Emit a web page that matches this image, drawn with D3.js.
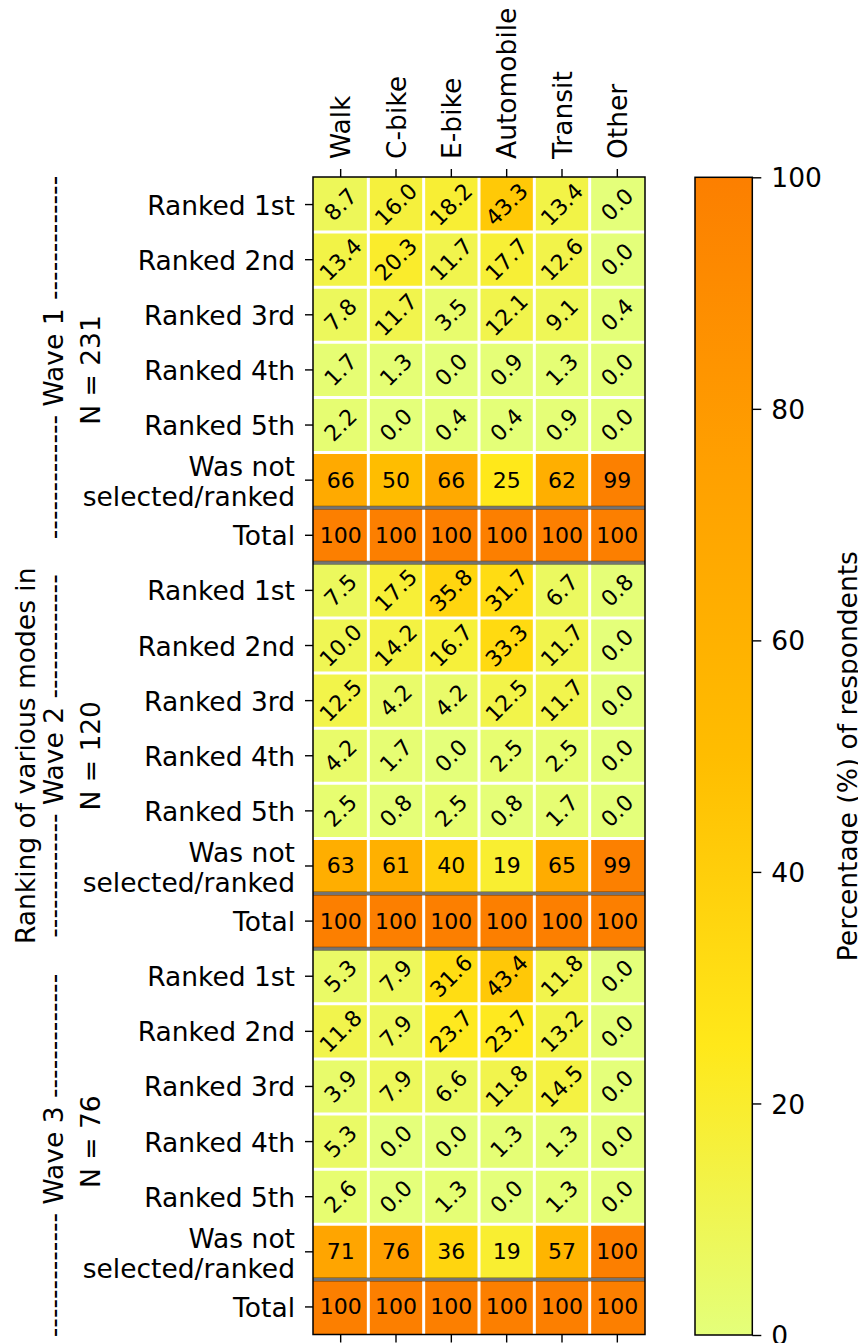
<!DOCTYPE html>
<html>
<head>
<meta charset="utf-8">
<script src="https://cdn.jsdelivr.net/npm/d3@7"></script>
<style>
  html, body { margin: 0; padding: 0; background: #fff; }
  svg { display: block; font-family: "DejaVu Sans", sans-serif; }
</style>
</head>
<body>
<svg id="chart" width="858" height="1343"></svg>
<script>
// Travel modes (columns)
const modes = ["Walk", "C-bike", "E-bike", "Automobile", "Transit", "Other"];

// Row labels repeated within each survey wave
const rowLabels = ["Ranked 1st", "Ranked 2nd", "Ranked 3rd", "Ranked 4th", "Ranked 5th",
                   "Was not\nselected/ranked", "Total"];

const waves = ["Wave 1", "Wave 2", "Wave 3"];
const waveN = [231, 120, 76];

// Percentage of respondents per rank and mode
const wave1 = [
  [8.7, 16.0, 18.2, 43.3, 13.4, 0.0],
  [13.4, 20.3, 11.7, 17.7, 12.6, 0.0],
  [7.8, 11.7, 3.5, 12.1, 9.1, 0.4],
  [1.7, 1.3, 0.0, 0.9, 1.3, 0.0],
  [2.2, 0.0, 0.4, 0.4, 0.9, 0.0],
  [66, 50, 66, 25, 62, 99],
  [100, 100, 100, 100, 100, 100]
];
const wave2 = [
  [7.5, 17.5, 35.8, 31.7, 6.7, 0.8],
  [10.0, 14.2, 16.7, 33.3, 11.7, 0.0],
  [12.5, 4.2, 4.2, 12.5, 11.7, 0.0],
  [4.2, 1.7, 0.0, 2.5, 2.5, 0.0],
  [2.5, 0.8, 2.5, 0.8, 1.7, 0.0],
  [63, 61, 40, 19, 65, 99],
  [100, 100, 100, 100, 100, 100]
];
const wave3 = [
  [5.3, 7.9, 31.6, 43.4, 11.8, 0.0],
  [11.8, 7.9, 23.7, 23.7, 13.2, 0.0],
  [3.9, 7.9, 6.6, 11.8, 14.5, 0.0],
  [5.3, 0.0, 0.0, 1.3, 1.3, 0.0],
  [2.6, 0.0, 1.3, 0.0, 1.3, 0.0],
  [71, 76, 36, 19, 57, 100],
  [100, 100, 100, 100, 100, 100]
];

const colorTicks = [0, 20, 40, 60, 80, 100];

// Wistia colormap anchors
const cmapStops = [0, 25, 50, 75, 100];
const cmapColors = ["#e4ff7a", "#ffe81a", "#ffbd00", "#ffa000", "#fc7f00"];

(function draw() {
  const svg = d3.select("#chart");
  const FONT = "DejaVu Sans";
  const FS = 26.5;      // tick / label font size
  const FS_CELL = 22;   // annotation font size

  const pLeft = 313, pRight = 645, pTop = 177, pBottom = 1334.5;
  const waveData = [wave1, wave2, wave3];
  const nRows = waveData.length * rowLabels.length;

  const x = d3.scaleBand().domain(modes).range([pLeft, pRight]);
  const y = d3.scaleBand().domain(d3.range(nRows)).range([pTop, pBottom]);
  const color = d3.scaleLinear().domain(cmapStops).range(cmapColors).clamp(true);

  // Flatten into cell records
  const cells = [];
  waveData.forEach((w, wi) => {
    w.forEach((row, ri) => {
      row.forEach((v, ci) => {
        cells.push({ r: wi * rowLabels.length + ri, ri, mode: modes[ci], v });
      });
    });
  });

  // Heatmap cells
  svg.append("g").selectAll("rect").data(cells).join("rect")
    .attr("x", d => x(d.mode))
    .attr("y", d => y(d.r))
    .attr("width", x.bandwidth())
    .attr("height", y.bandwidth())
    .attr("fill", d => color(d.v));

  // White separators between cells
  const grid = svg.append("g").attr("stroke", "#fff").attr("stroke-width", 3);
  modes.slice(1).forEach(m => {
    grid.append("line").attr("x1", x(m)).attr("x2", x(m)).attr("y1", pTop).attr("y2", pBottom);
  });
  d3.range(1, nRows).forEach(r => {
    grid.append("line").attr("x1", pLeft).attr("x2", pRight).attr("y1", y(r)).attr("y2", y(r));
  });

  // Dark rules around the "Total" rows
  const totalIdx = rowLabels.length - 1;
  const sep = svg.append("g").attr("stroke", "rgba(0,0,0,0.55)").attr("stroke-width", 4);
  waveData.forEach((w, wi) => {
    const r = wi * rowLabels.length + totalIdx;
    [y(r), y(r) + y.bandwidth()].forEach(yy => {
      if (yy < pBottom - 1) {
        sep.append("line").attr("x1", pLeft).attr("x2", pRight).attr("y1", yy).attr("y2", yy);
      }
    });
  });

  // Value annotations
  const fmt1 = d3.format(".1f"), fmt0 = d3.format("d");
  svg.append("g").selectAll("text").data(cells).join("text")
    .attr("font-family", FONT)
    .attr("font-size", FS_CELL)
    .attr("fill", "#000")
    .attr("text-anchor", "middle")
    .attr("dominant-baseline", "central")
    .attr("transform", d => {
      const cx = x(d.mode) + x.bandwidth() / 2, cy = y(d.r) + y.bandwidth() / 2;
      return d.ri < 5 ? `translate(${cx},${cy}) rotate(-45)` : `translate(${cx},${cy})`;
    })
    .text(d => d.ri < 5 ? fmt1(d.v) : fmt0(d.v));

  // Axes frame
  svg.append("rect").attr("x", pLeft).attr("y", pTop)
    .attr("width", pRight - pLeft).attr("height", pBottom - pTop)
    .attr("fill", "none").attr("stroke", "#000").attr("stroke-width", 1.5);

  // Top axis with rotated mode labels
  const xTop = svg.append("g").attr("transform", `translate(0,${pTop})`)
    .call(d3.axisTop(x).tickSize(8).tickSizeOuter(0));
  xTop.attr("font-family", FONT);
  xTop.select(".domain").remove();
  xTop.selectAll(".tick line").attr("stroke-width", 1.4);
  xTop.selectAll(".tick text")
    .attr("font-size", FS).attr("font-family", FONT).attr("fill", "#000")
    .attr("text-anchor", "start")
    .attr("transform", "rotate(-90)")
    .attr("x", 18).attr("y", 9.5).attr("dy", 0);

  // Bottom ticks only
  const xBot = svg.append("g").attr("transform", `translate(0,${pBottom})`)
    .call(d3.axisBottom(x).tickSize(8).tickSizeOuter(0).tickFormat(""));
  xBot.select(".domain").remove();
  xBot.selectAll(".tick line").attr("stroke-width", 1.4);

  // Left axis with row labels
  const yAx = svg.append("g").attr("transform", `translate(${pLeft},0)`)
    .call(d3.axisLeft(y).tickSize(8).tickSizeOuter(0).tickFormat(""));
  yAx.attr("font-family", FONT);
  yAx.select(".domain").remove();
  yAx.selectAll(".tick line").attr("stroke-width", 1.4);
  yAx.selectAll(".tick").each(function (r) {
    const lines = rowLabels[r % rowLabels.length].split("\n");
    const t = d3.select(this).append("text")
      .attr("font-family", FONT).attr("font-size", FS).attr("fill", "#000")
      .attr("text-anchor", "end");
    if (lines.length === 1) {
      t.append("tspan").attr("x", -18).attr("y", 10).text(lines[0]);
    } else {
      t.append("tspan").attr("x", -18).attr("y", -4).text(lines[0]);
      t.append("tspan").attr("x", -18).attr("y", 26).text(lines[1]);
    }
  });

  // Wave group labels
  const dash = "-".repeat(13);
  const waveCenters = [357.5, 756, 1155.5];
  waves.forEach((w, wi) => {
    const r0 = wi * rowLabels.length;
    const blockMid = (y(r0) + y(r0 + rowLabels.length - 1) + y.bandwidth()) / 2;
    svg.append("text")
      .attr("transform", `translate(63,${waveCenters[wi]}) rotate(-90)`)
      .attr("text-anchor", "middle").attr("font-family", FONT).attr("font-size", FS).attr("fill", "#000")
      .text(`${dash} ${w} ${dash}`);
    svg.append("text")
      .attr("transform", `translate(100,${blockMid}) rotate(-90)`)
      .attr("text-anchor", "middle").attr("font-family", FONT).attr("font-size", FS).attr("fill", "#000")
      .text(`N = ${waveN[wi]}`);
  });

  // Overall y label
  svg.append("text")
    .attr("transform", `translate(35,${(pTop + pBottom) / 2}) rotate(-90)`)
    .attr("text-anchor", "middle").attr("font-family", FONT).attr("font-size", FS).attr("fill", "#000")
    .text("Ranking of various modes in");

  // Colorbar
  const cbX = 695, cbW = 57.3, cbTop = 177.3, cbBot = 1335;
  const cbScale = d3.scaleLinear().domain([0, 100]).range([cbBot, cbTop]);
  const defs = svg.append("defs");
  const grad = defs.append("linearGradient").attr("id", "cbgrad")
    .attr("x1", 0).attr("y1", 1).attr("x2", 0).attr("y2", 0);
  cmapStops.forEach((s, i) => {
    grad.append("stop").attr("offset", s / 100).attr("stop-color", cmapColors[i]);
  });
  svg.append("rect").attr("x", cbX).attr("y", cbTop)
    .attr("width", cbW).attr("height", cbBot - cbTop)
    .attr("fill", "url(#cbgrad)").attr("stroke", "#000").attr("stroke-width", 1.5);

  const cbAx = svg.append("g").attr("transform", `translate(${cbX + cbW},0)`)
    .call(d3.axisRight(cbScale).tickValues(colorTicks).tickSize(9).tickPadding(10).tickSizeOuter(0));
  cbAx.attr("font-family", FONT);
  cbAx.select(".domain").remove();
  cbAx.selectAll(".tick line").attr("stroke-width", 1.4);
  cbAx.selectAll(".tick text")
    .attr("font-size", FS).attr("font-family", FONT).attr("fill", "#000")
    .attr("dy", "0.36em");

  svg.append("text")
    .attr("transform", `translate(856.5,${(cbTop + cbBot) / 2}) rotate(-90)`)
    .attr("text-anchor", "middle").attr("font-family", FONT).attr("font-size", FS).attr("fill", "#000")
    .text("Percentage (%) of respondents");
})();
</script>
</body>
</html>
